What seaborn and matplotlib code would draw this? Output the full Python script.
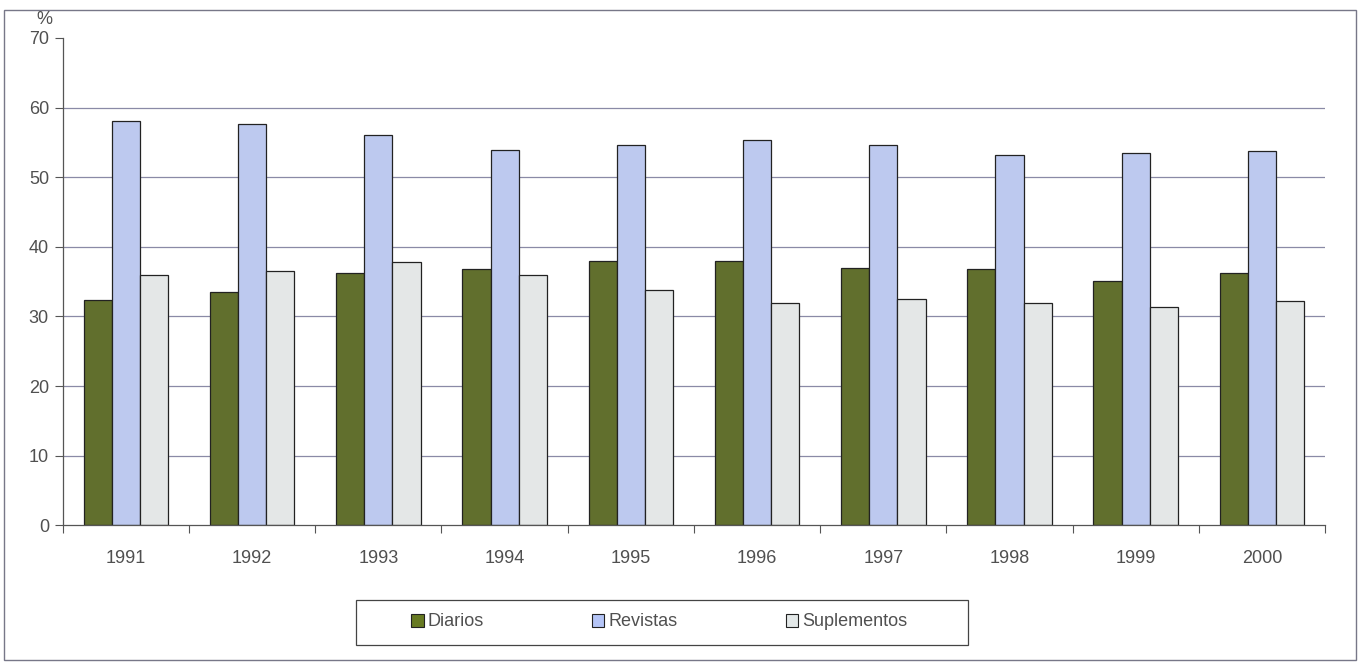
import pandas as pd
import numpy as np
import matplotlib.pyplot as plt
import seaborn as sns
from matplotlib.patches import Rectangle

# Datos (%)
anios = ['1991', '1992', '1993', '1994', '1995', '1996', '1997', '1998', '1999', '2000']
diarios = [32.3, 33.5, 36.3, 36.8, 37.9, 38.0, 37.0, 36.8, 35.1, 36.2]
revistas = [58.1, 57.7, 56.0, 53.9, 54.6, 55.4, 54.6, 53.2, 53.4, 53.7]
suplementos = [36.0, 36.5, 37.8, 36.0, 33.8, 32.0, 32.5, 31.9, 31.4, 32.2]
series = ['Diarios', 'Revistas', 'Suplementos']
colores = ['#677a22', '#b5c5f7', '#e3e8e8']

df = pd.DataFrame({'Año': anios, 'Diarios': diarios, 'Revistas': revistas,
                   'Suplementos': suplementos})
df = df.melt(id_vars='Año', var_name='Serie', value_name='Valor')

sns.set_style('white')
plt.rcParams['font.family'] = ['Liberation Sans', 'DejaVu Sans']
gris_texto = '#505050'

fig = plt.figure(figsize=(13.66, 6.65), dpi=100)
ax = fig.add_axes([0.046, 0.21, 0.924, 0.733])

sns.barplot(data=df, x='Año', y='Valor', hue='Serie', hue_order=series,
            palette=colores, width=0.67, gap=0, edgecolor='#222222',
            linewidth=0.9, ax=ax, legend=False)

ax.set_ylim(0, 70)
ax.set_xlim(-0.5, len(anios) - 0.5)
ax.set_yticks(range(0, 71, 10))
for v in range(10, 61, 10):
    ax.axhline(v, color='#8a8aa6', linewidth=0.9, zorder=0)

for s in ['top', 'right']:
    ax.spines[s].set_visible(False)
for s in ['left', 'bottom']:
    ax.spines[s].set_color('#555555')
    ax.spines[s].set_linewidth(0.9)

ax.set_xlabel('')
ax.set_ylabel('')
ax.tick_params(axis='y', direction='out', length=6, width=0.8, color='#555555',
               labelsize=13, labelcolor=gris_texto, left=True, pad=4)
ax.tick_params(axis='x', bottom=False, labelsize=13, labelcolor=gris_texto, pad=14)
# marcas entre categorías
ax.set_xticks(np.arange(-0.5, len(anios), 1.0), minor=True)
ax.tick_params(axis='x', which='minor', bottom=True, direction='out', length=6,
               width=0.8, color='#555555')

fig.text(44 / 1366, 1 - 19 / 665, '%', fontsize=13, color=gris_texto,
         ha='center', va='center')

# leyenda
handles = [Rectangle((0, 0), 1, 1, facecolor=c, edgecolor='#222222', linewidth=0.8)
           for c in colores]
leg = fig.legend(handles, series, loc='center left',
                 bbox_to_anchor=(411 / 1366, 1 - 622 / 665),
                 ncol=3, frameon=False, fontsize=13, borderpad=0, borderaxespad=0,
                 handlelength=0.7, handleheight=0.7, handletextpad=0.2,
                 columnspacing=6.0)
for t in leg.get_texts():
    t.set_color(gris_texto)
fig.patches.append(Rectangle((356 / 1366, 1 - 645 / 665), 612 / 1366, 45 / 665,
                             transform=fig.transFigure, fill=False,
                             edgecolor='#444444', linewidth=0.9))

# marco exterior
fig.patches.append(Rectangle((0.003, 0.008), 0.99, 0.977, transform=fig.transFigure,
                             fill=False, edgecolor='#777788', linewidth=1.0))

fig.savefig('out.png', dpi=100)
